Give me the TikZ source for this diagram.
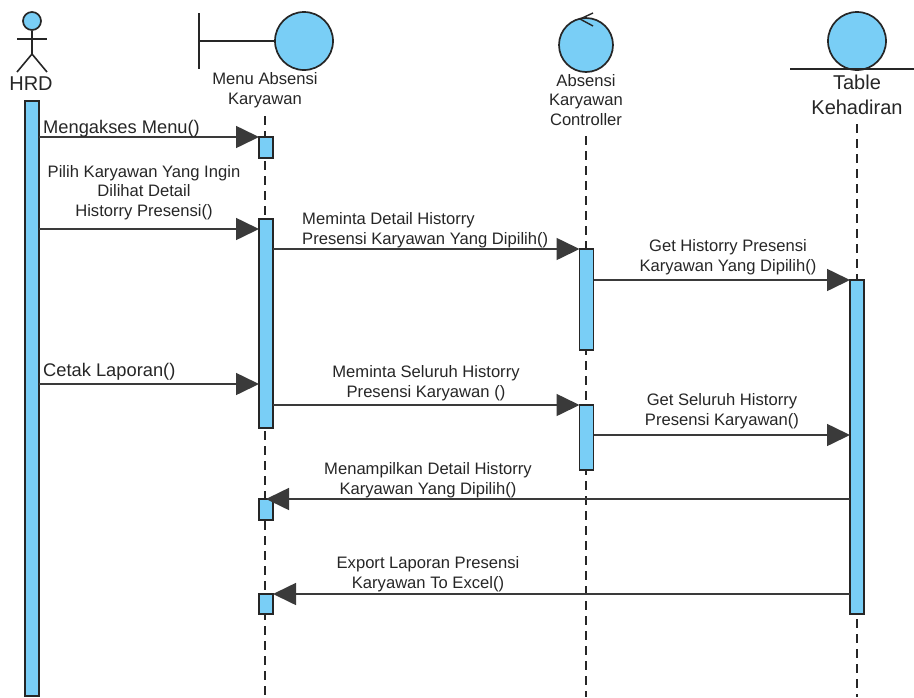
\documentclass[tikz,border=0pt]{standalone}
\usepackage{fontspec}
\setmainfont{Liberation Sans}
\usetikzlibrary{arrows.meta}
\definecolor{lifeblue}{HTML}{79CEF6}
\definecolor{inkgrey}{HTML}{262626}
\definecolor{tipgrey}{HTML}{3A3A3A}

\begin{document}
\begin{tikzpicture}[x=1pt, y=-1pt]
            \tikzstyle{figure line} = [draw=inkgrey, line width=1.6pt]
            \tikzstyle{disc} = [circle, draw=inkgrey, line width=1.7pt, fill=lifeblue, inner sep=0pt]
            \tikzstyle{life bar} = [rectangle, draw=inkgrey, line width=1.6pt, fill=lifeblue, inner sep=0pt, outer sep=0pt, minimum width=14pt]
            \tikzstyle{life line} = [draw=inkgrey, line width=1.5pt, dash pattern=on 9pt off 6pt]
            \tikzstyle{msg arrow} = [draw=tipgrey, line width=1.6pt, -{Triangle[length=23pt, width=22pt, fill=tipgrey]}]
            \tikzstyle{small text} = [inner sep=0pt, text=inkgrey, align=center, font=\fontsize{16.6}{19.6}\selectfont]
            \tikzstyle{big text} = [inner sep=0pt, text=inkgrey, align=center, font=\fontsize{20}{25}\selectfont]
            \tikzstyle{call text} = [inner sep=0pt, text=inkgrey, anchor=west, font=\fontsize{18.3}{20}\selectfont]

            \useasboundingbox (0, 0) rectangle (914, 697);

            \node[disc, minimum size=18pt] (hrd head) at (32, 21) {};
            \coordinate (hrd hip) at (32, 54);
            \coordinate (hrd arm l) at (17, 39);
            \coordinate (hrd arm r) at (47, 39);
            \coordinate (hrd foot l) at (17, 72);
            \coordinate (hrd foot r) at (47, 72);
            \draw[figure line] (hrd head) -- (hrd hip);
            \draw[figure line] (hrd arm l) -- (hrd arm r);
            \draw[figure line] (hrd foot l) -- (hrd hip) -- (hrd foot r);
            \node[big text] (hrd label) at (31, 84) {HRD};

            \node[disc, minimum size=58pt] (menu disc) at (304, 41) {};
            \coordinate (menu wall top) at (199, 13);
            \coordinate (menu wall bottom) at (199, 69);
            \coordinate (menu wall mid) at (199, 41);
            \draw[figure line] (menu wall top) -- (menu wall bottom);
            \draw[figure line] (menu wall mid) -- (menu disc);
            \node[small text] (menu label) at (265, 90) {Menu Absensi\\Karyawan};

            \node[disc, minimum size=54pt] (ctrl disc) at (586, 45) {};
            \coordinate (ctrl tip a) at (593, 13);
            \coordinate (ctrl tip b) at (580, 19);
            \coordinate (ctrl tip c) at (593, 26);
            \draw[draw=inkgrey, line width=1.4pt] (ctrl tip a) -- (ctrl tip b) -- (ctrl tip c);
            \node[small text] (ctrl label) at (586, 100) {Absensi\\Karyawan\\Controller};

            \node[disc, minimum size=58pt] (table disc) at (857, 41) {};
            \coordinate (table floor l) at (790, 69);
            \coordinate (table floor r) at (914, 69);
            \draw[figure line] (table floor l) -- (table floor r);
            \node[big text] (table label) at (857, 95) {Table\\Kehadiran};

            \coordinate (menu top) at (265, 116);
            \coordinate (menu end) at (265, 697);
            \coordinate (ctrl top) at (586, 136);
            \coordinate (ctrl end) at (586, 697);
            \coordinate (table top) at (857, 124);
            \coordinate (table end) at (857, 697);
            \draw[life line] (menu top) -- (menu end);
            \draw[life line] (ctrl top) -- (ctrl end);
            \draw[life line] (table top) -- (table end);

            \node[life bar, minimum height=595pt] (hrd bar) at (32, 398.5) {};
            \node[life bar, minimum height=21pt] (menu bar a) at (266, 147.5) {};
            \node[life bar, minimum height=209pt] (menu bar b) at (266, 323.5) {};
            \node[life bar, minimum height=21pt] (menu bar c) at (266, 509.5) {};
            \node[life bar, minimum height=20pt] (menu bar d) at (266, 604) {};
            \node[life bar, minimum height=101pt] (ctrl bar a) at (586.5, 299.5) {};
            \node[life bar, minimum height=65pt] (ctrl bar b) at (586.5, 437.5) {};
            \node[life bar, minimum height=334pt] (table bar) at (857, 447) {};

            \draw[msg arrow] (hrd bar.east |- menu bar a.north) -- (menu bar a.north west);
            \draw[msg arrow] (hrd bar.east |- 0, 229) -- (menu bar b.west |- 0, 229);
            \draw[msg arrow] (hrd bar.east |- 0, 384) -- (menu bar b.west |- 0, 384);
            \draw[msg arrow] (menu bar b.east |- ctrl bar a.north) -- (ctrl bar a.north west);
            \draw[msg arrow] (menu bar b.east |- ctrl bar b.north) -- (ctrl bar b.north west);
            \draw[msg arrow] (ctrl bar a.east |- table bar.north) -- (table bar.north west);
            \draw[msg arrow] (ctrl bar b.east |- 0, 435) -- (table bar.west |- 0, 435);
            \draw[msg arrow] (table bar.west |- menu bar c.north) -- (menu bar c.north);
            \draw[msg arrow] (table bar.west |- menu bar d.north) -- (menu bar d.north east);

            \node[call text] (access text) at (43, 129) {Mengakses Menu()};
            \node[small text] (pick text) at (144, 192.5) {Pilih Karyawan Yang Ingin\\Dilihat Detail\\Historry Presensi()};
            \node[small text, anchor=west, align=left] (detail text) at (302, 230) {Meminta Detail Historry\\Presensi Karyawan Yang Dipilih()};
            \node[small text] (get detail text) at (728, 257) {Get Historry Presensi\\Karyawan Yang Dipilih()};
            \node[call text] (print text) at (43, 372) {Cetak Laporan()};
            \node[small text] (all text) at (426, 383) {Meminta Seluruh Historry\\Presensi Karyawan ()};
            \node[small text] (get all text) at (722, 411) {Get Seluruh Historry\\Presensi Karyawan()};
            \node[small text] (show text) at (428, 480) {Menampilkan Detail Historry\\Karyawan Yang Dipilih()};
            \node[small text] (export text) at (428, 574) {Export Laporan Presensi\\Karyawan To Excel()};
        \end{tikzpicture}
\end{document}
